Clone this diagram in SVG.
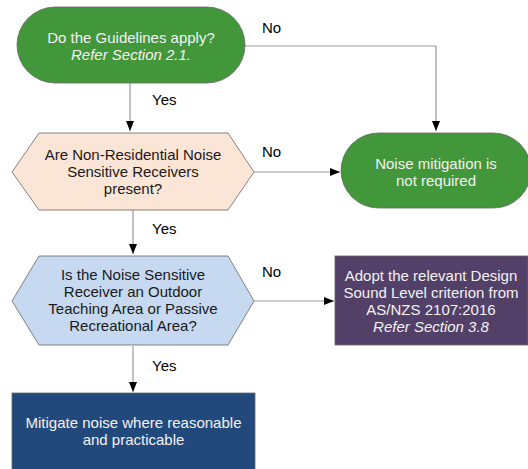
<svg xmlns="http://www.w3.org/2000/svg" width="528" height="469" viewBox="0 0 528 469">
<style>
text{font-family:"Liberation Sans",Arial,sans-serif;font-size:15px;text-anchor:middle}
.lt{fill:#f2f2f2}
.dk{fill:#1a1a1a}
.it{font-style:italic}
.lbl{text-anchor:start;fill:#000}
.edge{fill:none;stroke:#9a9a9a;stroke-width:1.2}
.nd{stroke:#666;stroke-width:0.8}
</style>
<defs>
<marker id="ah" markerWidth="10" markerHeight="10" refX="10" refY="5" orient="auto" markerUnits="userSpaceOnUse" viewBox="0 0 10 10">
<path d="M0,1 L10,5 L0,9 Z" fill="#000"/>
</marker>
</defs>
<g id="connectors">
<path class="edge" d="M245,46 H436 V131" marker-end="url(#ah)"/>
<path class="edge" d="M130,83 V131" marker-end="url(#ah)"/>
<path class="edge" d="M254,172 H340" marker-end="url(#ah)"/>
<path class="edge" d="M133,210 V254" marker-end="url(#ah)"/>
<path class="edge" d="M254,301 H334" marker-end="url(#ah)"/>
<path class="edge" d="M133,346 V392" marker-end="url(#ah)"/>
<text class="lbl" x="262" y="33">No</text>
<text class="lbl" x="152" y="105">Yes</text>
<text class="lbl" x="262" y="157">No</text>
<text class="lbl" x="152" y="234">Yes</text>
<text class="lbl" x="262" y="277">No</text>
<text class="lbl" x="152" y="371">Yes</text>
</g>
<g id="n1">
<rect class="nd" x="17" y="7" width="228" height="76" rx="38" fill="#42973b"/>
<text class="lt" x="131" y="43">Do the Guidelines apply?</text>
<text class="lt it" x="131" y="60">Refer Section 2.1.</text>
</g>
<g id="n2">
<polygon class="nd" points="12,172 39,133 228,133 254,172 228,210 39,210" fill="#fbe5d6"/>
<text class="dk" x="133" y="160">Are Non-Residential Noise</text>
<text class="dk" x="133" y="177">Sensitive Receivers</text>
<text class="dk" x="133" y="194">present?</text>
</g>
<g id="n3">
<rect class="nd" x="341" y="133" width="190" height="75" rx="37.5" fill="#42973b"/>
<text class="lt" x="436" y="169">Noise mitigation is</text>
<text class="lt" x="436" y="186">not required</text>
</g>
<g id="n4">
<polygon class="nd" points="12,301 39,256 228,256 254,301 228,345 39,345" fill="#c6d9f0"/>
<text class="dk" x="133" y="280">Is the Noise Sensitive</text>
<text class="dk" x="133" y="297">Receiver an Outdoor</text>
<text class="dk" x="133" y="314">Teaching Area or Passive</text>
<text class="dk" x="133" y="331">Recreational Area?</text>
</g>
<g id="n5">
<rect class="nd" x="335" y="256" width="193" height="89" fill="#524068"/>
<text class="lt" x="431" y="281">Adopt the relevant Design</text>
<text class="lt" x="431" y="298">Sound Level criterion from</text>
<text class="lt" x="431" y="315">AS/NZS 2107:2016</text>
<text class="lt it" x="431" y="332">Refer Section 3.8</text>
</g>
<g id="n6">
<rect class="nd" x="12" y="393" width="243" height="80" fill="#22497c"/>
<text class="lt" x="133.5" y="428">Mitigate noise where reasonable</text>
<text class="lt" x="133.5" y="445">and practicable</text>
</g>
</svg>
